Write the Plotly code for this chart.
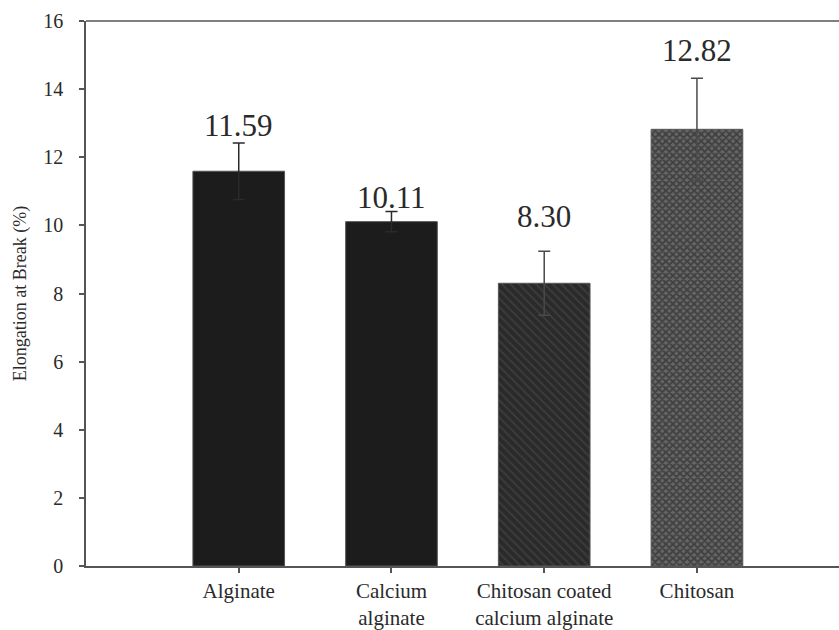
import plotly.graph_objects as go

categories = ["Alginate", "Calcium<br>alginate", "Chitosan coated<br>calcium alginate", "Chitosan"]
values = [11.59, 10.11, 8.30, 12.82]
errors = [0.83, 0.30, 0.94, 1.50]
value_labels = ["11.59", "10.11", "8.30", "12.82"]
label_heights = [12.93, 10.83, 10.25, 15.12]
y_ticks = [0, 2, 4, 6, 8, 10, 12, 14, 16]

fills = [
    dict(color="#1c1c1c", pattern=dict(shape=""), err="#2a2a2a"),
    dict(color="#1c1c1c", pattern=dict(shape=""), err="#2a2a2a"),
    dict(color="#2e2e2e", pattern=dict(shape="\\", fgcolor="#505050", bgcolor="#2a2a2a", size=6, solidity=0.3), err="#4a4a4a"),
    dict(color="#444444", pattern=dict(shape="x", fgcolor="#1a1a1a", bgcolor="#666666", size=5, solidity=0.6), err="#4a4a4a"),
]

fig = go.Figure()
for i, cat in enumerate(categories):
    fig.add_trace(go.Bar(
        x=[cat], y=[values[i]],
        width=0.6,
        marker=dict(color=fills[i]["color"], pattern=fills[i]["pattern"],
                    line=dict(color="#555555", width=1)),
        error_y=dict(type="data", array=[errors[i]], visible=True,
                     color=fills[i]["err"], thickness=1.5, width=6),
        showlegend=False,
    ))

for i, cat in enumerate(categories):
    fig.add_annotation(x=cat, y=label_heights[i], text=value_labels[i],
                       showarrow=False, xref="x", yref="y",
                       font=dict(family="Liberation Serif", size=31, color="#2a2a2a"))

# top frame line
fig.add_shape(type="line", xref="paper", yref="paper", x0=0, x1=1, y0=1, y1=1,
              line=dict(color="#555555", width=1.5))

fig.update_layout(
    width=839, height=630,
    margin=dict(l=86, r=0, t=21, b=60),
    paper_bgcolor="white", plot_bgcolor="white",
    font=dict(family="Liberation Serif", color="#2a2a2a"),
    bargap=0.4,
)
fig.update_xaxes(
    type="category", categoryorder="array", categoryarray=categories,
    range=[-1, 3.93],
    showline=True, linecolor="#555555", linewidth=1.5,
    ticks="outside", ticklen=5, tickcolor="#555555", tickwidth=1.5,
    tickfont=dict(family="Liberation Serif", size=21, color="#2a2a2a"),
    showgrid=False, zeroline=False,
)
fig.update_yaxes(
    range=[0, 16], tickvals=y_ticks,
    showline=True, linecolor="#555555", linewidth=1.5,
    ticks="outside", ticklen=5, tickcolor="#555555", tickwidth=1.5,
    tickfont=dict(family="Liberation Serif", size=20, color="#2a2a2a"),
    ticklabelstandoff=12,
    showgrid=False, zeroline=False,
    title=dict(text="Elongation at Break (%)", standoff=12,
               font=dict(family="Liberation Serif", size=18, color="#2a2a2a")),
)

fig.write_html("out.html", config={"displayModeBar": False},
               post_script="document.body.style.margin='0px';document.body.style.overflow='hidden';")
